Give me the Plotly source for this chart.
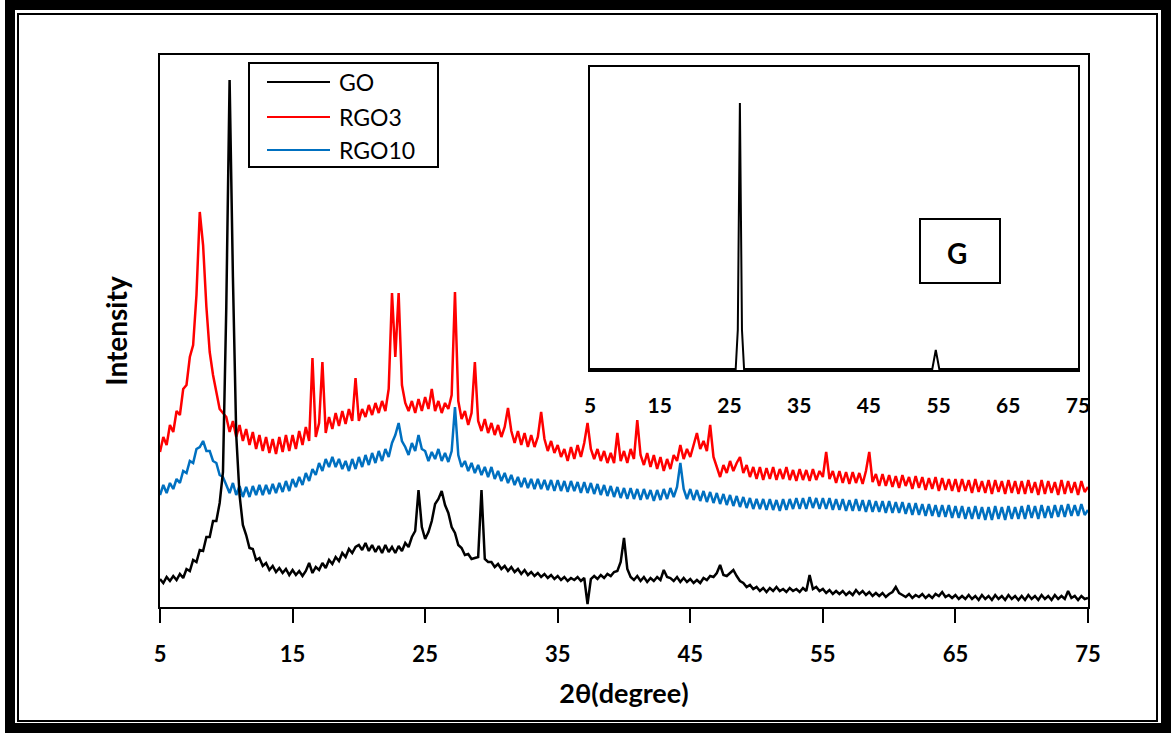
import plotly.graph_objects as go

# ---------------- data (intensity in arbitrary units) ----------------
# common 2-theta sampling grid: 5.00 ... 75.00 deg, step 0.25 deg
two_theta = [5 + 0.25 * i for i in range(281)]

go_y = [
    28, 24, 30, 26, 31, 27, 33, 29, 38, 36, 47, 45, 57, 56, 70, 70, 86, 86, 104, 135,        # 5.00-9.75
    300, 527, 330, 172, 112, 82, 72, 59, 58, 47, 49, 41, 44, 37, 41, 35, 39, 34, 38, 32,      # 10-14.75
    37, 32, 36, 31, 36, 44, 34, 40, 37, 44, 39, 47, 43, 50, 46, 54, 50, 58, 54, 60,           # 15-19.75
    62, 57, 64, 56, 62, 55, 61, 54, 62, 55, 60, 54, 61, 56, 64, 60, 70, 76, 117, 80,          # 20-24.75
    68, 75, 86, 103, 108, 116, 102, 94, 80, 74, 62, 59, 52, 53, 48, 49, 50, 117, 48, 45,      # 25-29.75
    45, 40, 43, 38, 41, 36, 40, 35, 38, 33, 37, 32, 35, 31, 34, 30, 33, 29, 32, 28,           # 30-34.75
    31, 27, 30, 26, 29, 27, 30, 26, 29, 3, 28, 31, 28, 32, 29, 33, 31, 35, 36, 45,            # 35-39.75
    69, 38, 30, 27, 31, 26, 30, 25, 29, 26, 30, 27, 37, 30, 29, 26, 30, 25, 29, 25,           # 40-44.75
    28, 24, 27, 24, 29, 27, 31, 30, 34, 42, 32, 31, 34, 37, 31, 26, 24, 20, 22, 18,           # 45-49.75
    20, 16, 19, 15, 19, 16, 20, 16, 18, 15, 19, 16, 18, 15, 19, 16, 32, 18, 20, 16,           # 50-54.75
    18, 14, 17, 13, 16, 13, 16, 12, 15, 12, 17, 13, 16, 12, 15, 11, 14, 11, 14, 10,           # 55-59.75
    13, 15, 20, 14, 12, 10, 13, 9, 12, 10, 13, 9, 12, 9, 13, 11, 15, 10, 12, 9,               # 60-64.75
    12, 8, 11, 8, 12, 8, 11, 7, 12, 8, 11, 7, 12, 8, 11, 7, 12, 8, 11, 7,                     # 65-69.75
    11, 7, 12, 8, 11, 7, 12, 8, 11, 7, 12, 8, 11, 8, 16, 9, 11, 7, 11, 8,                     # 70-74.75
    9,
]

rgo3_y = [
    155, 170, 162, 182, 175, 196, 192, 218, 222, 250, 262, 312, 395, 362, 300, 255, 232, 215, 198, 194,
    190, 175, 186, 170, 182, 166, 178, 162, 175, 158, 172, 156, 170, 154, 168, 153, 170, 155, 172, 156,
    172, 158, 176, 162, 180, 166, 249, 170, 184, 245, 174, 190, 178, 194, 181, 196, 183, 198, 186, 229,
    186, 198, 190, 202, 192, 204, 194, 206, 196, 218, 314, 250, 314, 222, 204, 196, 206, 194, 208, 196,
    210, 198, 218, 196, 206, 194, 204, 198, 212, 315, 206, 188, 196, 182, 194, 245, 186, 176, 188, 174,
    184, 172, 182, 170, 180, 199, 176, 164, 176, 162, 174, 160, 172, 160, 170, 195, 168, 156, 166, 154,
    162, 150, 158, 146, 160, 148, 162, 150, 164, 184, 158, 148, 158, 146, 156, 144, 154, 144, 174, 146,
    156, 144, 158, 148, 187, 152, 142, 154, 140, 152, 138, 150, 136, 148, 138, 152, 146, 162, 148, 158,
    150, 162, 174, 158, 166, 156, 182, 150, 140, 130, 142, 134, 146, 136, 144, 150, 134, 142, 130, 140,
    128, 140, 127, 139, 128, 140, 127, 138, 128, 140, 127, 137, 126, 138, 127, 137, 126, 138, 127, 136,
    130, 155, 128, 136, 124, 136, 124, 135, 123, 135, 124, 134, 123, 136, 155, 125, 133, 121, 133, 121,
    132, 120, 131, 119, 132, 121, 130, 118, 131, 119, 130, 117, 129, 118, 130, 116, 129, 117, 128, 116,
    128, 115, 128, 116, 127, 114, 128, 115, 126, 114, 127, 113, 127, 115, 126, 113, 127, 114, 126, 113,
    126, 113, 127, 114, 125, 112, 127, 113, 126, 114, 125, 112, 127, 113, 126, 114, 125, 112, 126, 115,
    120,
]

rgo10_y = [
    112, 122, 114, 124, 118, 128, 124, 136, 134, 146, 144, 158, 160, 166, 156, 156, 146, 144, 132, 130,
    122, 114, 124, 112, 121, 110, 120, 110, 121, 112, 122, 112, 122, 113, 123, 114, 124, 115, 126, 116,
    128, 120, 130, 122, 134, 126, 138, 132, 144, 136, 148, 140, 150, 140, 148, 138, 146, 136, 148, 138,
    150, 140, 152, 142, 154, 144, 156, 146, 158, 150, 164, 172, 184, 166, 160, 152, 164, 156, 172, 158,
    156, 146, 155, 148, 158, 146, 154, 145, 156, 200, 152, 140, 146, 136, 144, 134, 142, 132, 140, 130,
    140, 128, 136, 126, 134, 124, 132, 122, 130, 120, 129, 119, 128, 118, 128, 118, 127, 117, 127, 116,
    127, 116, 126, 115, 126, 116, 125, 114, 125, 114, 124, 113, 123, 112, 122, 111, 121, 110, 120, 109,
    119, 108, 119, 108, 118, 107, 118, 108, 117, 106, 117, 107, 118, 108, 119, 110, 120, 144, 118, 108,
    118, 107, 117, 106, 116, 105, 115, 104, 114, 103, 113, 102, 112, 101, 111, 100, 110, 99, 109, 98,
    108, 98, 108, 97, 108, 97, 107, 96, 108, 97, 108, 98, 109, 98, 109, 98, 110, 99, 109, 98,
    109, 98, 109, 97, 108, 97, 108, 96, 107, 96, 108, 96, 107, 95, 107, 95, 106, 95, 106, 94,
    106, 94, 105, 94, 105, 93, 104, 92, 104, 92, 103, 91, 103, 91, 102, 90, 102, 90, 102, 89,
    101, 89, 101, 88, 100, 88, 101, 88, 100, 87, 100, 87, 101, 88, 100, 87, 101, 88, 100, 88,
    101, 88, 102, 89, 101, 88, 102, 89, 101, 89, 102, 90, 102, 90, 103, 91, 102, 91, 103, 92,
    97,
]

# inset: graphite (G) reference pattern
g_x = [5.0, 25.9, 26.2, 26.5, 26.8, 27.1, 54.1, 54.6, 55.1, 75.0]
g_y = [1, 1, 40, 267, 40, 1, 1, 20, 1, 1]

x_ticks = [5, 15, 25, 35, 45, 55, 65, 75]
series_names = ["GO", "RGO3", "RGO10"]
series_colors = ["#000000", "#FF0000", "#0070C0"]

# ---------------- layout helpers (pixel -> paper) ----------------
W, H = 1173, 734
L, R, T, B = 160, 85, 55, 127
PW, PH = W - L - R, H - T - B


def px(x):
    return (x - L) / PW


def py(y):
    return (H - B - y) / PH


FONT = "Lato"

fig = go.Figure()
# draw order: RGO3, RGO10, then GO on top
for name, ys in [("RGO3", rgo3_y), ("RGO10", rgo10_y), ("GO", go_y)]:
    c = series_colors[series_names.index(name)]
    fig.add_trace(go.Scatter(x=two_theta, y=ys, mode="lines", name=name, showlegend=False,
                             line=dict(color=c, width=2.5)))
fig.add_trace(go.Scatter(x=g_x, y=g_y, mode="lines", name="G", showlegend=False,
                         line=dict(color="#000000", width=2), xaxis="x2", yaxis="y2"))

fig.update_layout(
    width=W, height=H,
    margin=dict(l=L, r=R, t=T, b=B),
    paper_bgcolor="white", plot_bgcolor="white",
    font=dict(family=FONT, color="black"),
    showlegend=False,
    xaxis=dict(range=[5, 75], tickvals=x_ticks, ticks="outside", ticklen=14, tickwidth=2,
               tickcolor="black", showline=True, linecolor="black", linewidth=2, mirror=True,
               showgrid=False, zeroline=False,
               tickfont=dict(size=22, family=FONT, weight="bold"),
               ticklabelstandoff=13,
               title=dict(text="2θ(degree)", font=dict(size=27, family=FONT, weight="bold"),
                          standoff=18)),
    yaxis=dict(range=[0, 552], showticklabels=False, ticks="", showline=True, linecolor="black",
               linewidth=2, mirror=True, showgrid=False, zeroline=False,
               title=dict(text="Intensity", font=dict(size=28, family=FONT, weight="bold"),
                          standoff=22)),
    xaxis2=dict(domain=[px(590), px(1078)], anchor="y2", range=[5, 75], tickvals=x_ticks,
                ticks="", showline=True, linecolor="black", linewidth=2, mirror=True,
                showgrid=False, zeroline=False,
                tickfont=dict(size=21, family=FONT, weight="bold"), ticklabelstandoff=16),
    yaxis2=dict(domain=[py(370), py(67)], anchor="x2", range=[0, 303], showticklabels=False,
                ticks="", showline=True, linecolor="black", linewidth=2, mirror=True,
                showgrid=False, zeroline=False),
)

shapes = [
    # outer thick frame
    dict(type="rect", xref="paper", yref="paper", x0=px(10), x1=px(1166), y0=py(5), y1=py(728),
         line=dict(color="black", width=10), layer="above"),
    # inner thin frame
    dict(type="rect", xref="paper", yref="paper", x0=px(18), x1=px(1157), y0=py(14), y1=py(721),
         line=dict(color="black", width=2), layer="above"),
    # "G" label box
    dict(type="rect", xref="paper", yref="paper", x0=px(920), x1=px(1000), y0=py(219), y1=py(283),
         line=dict(color="black", width=2), fillcolor="white", layer="above"),
    # legend box
    dict(type="rect", xref="paper", yref="paper", x0=px(249), x1=px(438), y0=py(63), y1=py(167),
         line=dict(color="black", width=2), fillcolor="white", layer="above"),
]
legend_rows = [82, 117, 150]
for name, c, yy in zip(series_names, series_colors, legend_rows):
    shapes.append(dict(type="line", xref="paper", yref="paper", x0=px(267), x1=px(330),
                       y0=py(yy), y1=py(yy), line=dict(color=c, width=2), layer="above"))
    fig.add_annotation(x=px(337), y=py(yy), xref="paper", yref="paper", text=name,
                       showarrow=False, xanchor="left", yanchor="middle",
                       font=dict(size=23, family=FONT, color="black"))
fig.update_layout(shapes=shapes)
fig.add_annotation(x=px(957), y=py(253), xref="paper", yref="paper", text="G", showarrow=False,
                   xanchor="center", yanchor="middle",
                   font=dict(size=28, family=FONT, weight="bold", color="black"))

fig.write_html("out.html", config={"displayModeBar": False},
               post_script="document.body.style.margin='0';")
